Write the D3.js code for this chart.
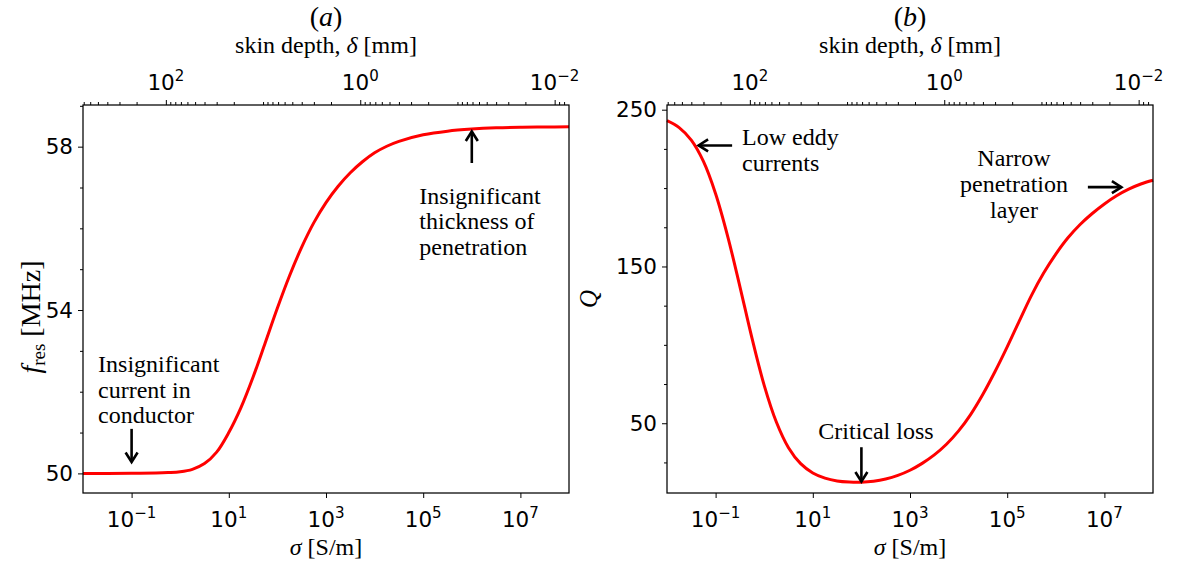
<!DOCTYPE html>
<html>
<head>
<meta charset="utf-8">
<script src="https://cdn.jsdelivr.net/npm/d3@7"></script>
<style>
  html, body { margin: 0; padding: 0; background: #fff; }
  svg { display: block; }
</style>
</head>
<body>
<svg id="fig" width="1179" height="568"></svg>
<script>
// ---- data: resonance frequency and quality factor versus wall conductivity ----
// conductivity samples as log10(sigma [S/m])
const logSigmaA = [-2, -1.5, -1, -0.5, -0.25, 0, 0.25, 0.5, 0.75, 1, 1.25, 1.5, 1.75, 2, 2.25, 2.5, 2.75, 3, 3.25, 3.5, 3.75, 4, 4.25, 4.5, 5, 5.5, 6, 6.5, 7, 7.5, 8];
const fresMHz   = [50.00, 50.00, 50.003, 50.01, 50.02, 50.04, 50.10, 50.24, 50.52, 51.00, 51.61, 52.36, 53.20, 54.05, 54.84, 55.54, 56.14, 56.63, 57.03, 57.36, 57.63, 57.85, 58.01, 58.13, 58.29, 58.38, 58.43, 58.46, 58.475, 58.48, 58.485];

const logSigmaB = [-2, -1.75, -1.5, -1.25, -1, -0.75, -0.5, -0.25, 0, 0.25, 0.5, 0.75, 1, 1.25, 1.5, 1.75, 2, 2.25, 2.5, 2.75, 3, 3.25, 3.5, 3.75, 4, 4.25, 4.5, 4.75, 5, 5.25, 5.5, 5.75, 6, 6.25, 6.5, 6.75, 7, 7.25, 7.5, 7.75, 8];
const qFactor   = [243.0, 238.6, 230.6, 217.0, 196.4, 169.1, 137.2, 104.1, 74.2, 50.8, 34.4, 24.2, 18.3, 15.0, 13.2, 12.5, 12.4, 13.0, 14.4, 16.7, 20.0, 24.4, 29.8, 36.6, 45.1, 55.7, 68.5, 83.0, 98.7, 115.3, 131.6, 145.8, 157.9, 168.3, 176.8, 183.8, 189.9, 195.1, 199.3, 202.6, 205.0];

// tick values
const sigmaTickExp = [-1, 1, 3, 5, 7];
const deltaTickExp = [2, 0, -2];
const fresTicks = [50, 54, 58];
const fresMinor = [51, 52, 53, 55, 56, 57, 59];
const qTicks = [50, 150, 250];
const qMinor = [25, 75, 100, 125, 175, 200, 225];

// annotations (text anchor, arrow tail -> tip) in data units
const annotA = [
  { lines: ["Insignificant", "current in", "conductor"], at: [10 ** -1.69, 52.48], anchor: "start",
    from: [0.1, 51.09], to: [0.1, 50.28] },
  { lines: ["Insignificant", "thickness of", "penetration"], at: [10 ** 4.92, 56.6], anchor: "start",
    from: [1e6, 57.6], to: [1e6, 58.37] }
];
const annotB = [
  { lines: ["Low eddy", "currents"], at: [10 ** -0.457, 227.2], anchor: "start",
    from: [10 ** -0.66, 227.2], to: [10 ** -1.35, 227.2] },
  { lines: ["Critical loss"], at: [10 ** 2.30, 40.0], anchor: "middle",
    from: [100, 34.7], to: [100, 12.8] },
  { lines: ["Narrow", "penetration", "layer"], at: [10 ** 5.14, 213.8], anchor: "middle",
    from: [10 ** 6.66, 200.6], to: [10 ** 7.35, 200.6] }
];

// ---- helpers ----
const SERIF = "'Liberation Serif', 'Times New Roman', serif";
const SANS = "'DejaVu Sans', sans-serif";
const TICK_FS = 21.5;
const TEXT_FS = 24;
const LINE_H = 25.6;

// skin depth in mm for a 50 MHz field: delta = sqrt(2 / (omega mu0 sigma))
const SKIN_COEF = 1000 * Math.sqrt(2 / (2 * Math.PI * 50e6 * 4 * Math.PI * 1e-7));
const skinDepth = s => SKIN_COEF / Math.sqrt(s);

const svg = d3.select("#fig");

function powerLabel(g, x, y, exp) {
  const t = g.append("text")
    .attr("x", x).attr("y", y)
    .attr("text-anchor", "middle")
    .attr("font-family", SANS)
    .attr("font-size", TICK_FS)
    .attr("fill", "#000");
  t.append("tspan").text("10");
  t.append("tspan")
    .attr("font-size", TICK_FS * 0.7)
    .attr("dy", -TICK_FS * 0.42)
    .text(String(exp).replace("-", "\u2212"));
}

function drawArrow(g, x1, y1, x2, y2) {
  const ang = Math.atan2(y2 - y1, x2 - x1);
  const L = 9.5, Hw = 6;
  const ux = Math.cos(ang), uy = Math.sin(ang);
  const px = -uy, py = ux;
  const bx = x2 - ux * L, by = y2 - uy * L;
  g.append("path")
    .attr("d", `M${x1},${y1}L${x2},${y2}`)
    .attr("stroke", "#000").attr("stroke-width", 2.6).attr("fill", "none");
  g.append("path")
    .attr("d", `M${bx + px * Hw},${by + py * Hw}L${x2},${y2}L${bx - px * Hw},${by - py * Hw}`)
    .attr("stroke", "#000").attr("stroke-width", 2.6).attr("fill", "none")
    .attr("stroke-linejoin", "miter").attr("stroke-linecap", "butt");
}

function panel(o) {
  const g = svg.append("g");
  const x = d3.scaleLog().domain([1e-2, 1e8]).range([o.x0, o.x1]);
  const xt = d3.scaleLog().domain([skinDepth(1e-2), skinDepth(1e8)]).range([o.x0, o.x1]);
  const y = d3.scaleLinear().domain(o.yDomain).range([o.y1, o.y0]);
  const cx = (o.x0 + o.x1) / 2;

  // curve
  const pts = o.logS.map((l, i) => [10 ** l, o.vals[i]]);
  g.append("path")
    .datum(pts)
    .attr("d", d3.line().x(d => x(d[0])).y(d => y(d[1])).curve(d3.curveCatmullRom.alpha(0.5)))
    .attr("fill", "none")
    .attr("stroke", "#ff0000")
    .attr("stroke-width", 3)
    .attr("stroke-linejoin", "round");

  // bottom axis (sigma)
  const bAx = g.append("g").attr("transform", `translate(0,${o.y1})`)
    .call(d3.axisBottom(x).tickValues(sigmaTickExp.map(e => 10 ** e)).tickSize(5).tickSizeOuter(0).tickFormat(""));
  bAx.select(".domain").remove();
  sigmaTickExp.forEach(e => powerLabel(g, x(10 ** e), 527, e));

  // top axis (skin depth)
  const [dHi, dLo] = xt.domain();
  const minors = [];
  for (let p = Math.floor(Math.log10(dLo)); p <= Math.ceil(Math.log10(dHi)); p++) {
    for (let k = 1; k <= 9; k++) {
      const v = k * 10 ** p;
      if (v >= dLo && v <= dHi && !(k === 1 && deltaTickExp.includes(p))) minors.push(v);
    }
  }
  const tMin = g.append("g").attr("transform", `translate(0,${o.y0})`)
    .call(d3.axisTop(xt).tickValues(minors).tickSize(3).tickSizeOuter(0).tickFormat(""));
  tMin.select(".domain").remove();
  const tMaj = g.append("g").attr("transform", `translate(0,${o.y0})`)
    .call(d3.axisTop(xt).tickValues(deltaTickExp.map(e => 10 ** e)).tickSize(5).tickSizeOuter(0).tickFormat(""));
  tMaj.select(".domain").remove();
  deltaTickExp.forEach(e => powerLabel(g, xt(10 ** e), 90, e));

  // left axis
  const lMin = g.append("g").attr("transform", `translate(${o.x0},0)`)
    .call(d3.axisLeft(y).tickValues(o.yMinor).tickSize(3).tickSizeOuter(0).tickFormat(""));
  lMin.select(".domain").remove();
  const lMaj = g.append("g").attr("transform", `translate(${o.x0},0)`)
    .call(d3.axisLeft(y).tickValues(o.yMajor).tickSize(5).tickSizeOuter(0).tickFormat(""));
  lMaj.select(".domain").remove();
  o.yMajor.forEach(v => {
    g.append("text")
      .attr("x", o.x0 - 10).attr("y", y(v) + TICK_FS * 0.36)
      .attr("text-anchor", "end")
      .attr("font-family", SANS).attr("font-size", TICK_FS)
      .text(v);
  });
  g.selectAll(".tick line").attr("stroke", "#000").attr("stroke-width", 1);

  // frame
  g.append("rect")
    .attr("x", o.x0).attr("y", o.y0)
    .attr("width", o.x1 - o.x0).attr("height", o.y1 - o.y0)
    .attr("fill", "none").attr("stroke", "#000").attr("stroke-width", 1.25);

  // axis titles
  const st = g.append("text")
    .attr("x", cx).attr("y", 555).attr("text-anchor", "middle")
    .attr("font-family", SERIF).attr("font-size", TEXT_FS);
  st.append("tspan").attr("font-style", "italic").text("\u03C3");
  st.append("tspan").text(" [S/m]");

  const tt = g.append("text")
    .attr("x", cx).attr("y", 53).attr("text-anchor", "middle")
    .attr("font-family", SERIF).attr("font-size", TEXT_FS);
  tt.append("tspan").text("skin depth,  ");
  tt.append("tspan").attr("font-style", "italic").text("\u03B4");
  tt.append("tspan").text(" [mm]");

  const ti = g.append("text")
    .attr("x", cx).attr("y", 26).attr("text-anchor", "middle")
    .attr("font-family", SERIF).attr("font-size", 28);
  ti.append("tspan").text("(");
  ti.append("tspan").attr("font-style", "italic").text(o.title);
  ti.append("tspan").text(")");

  o.yLabel(g, (o.y0 + o.y1) / 2);

  // annotations
  o.annot.forEach(a => {
    const ax = x(a.at[0]), ay = y(a.at[1]);
    const t = g.append("text")
      .attr("font-family", SERIF).attr("font-size", TEXT_FS)
      .attr("text-anchor", a.anchor);
    a.lines.forEach((ln, i) => {
      t.append("tspan").attr("x", ax).attr("y", ay + i * LINE_H).text(ln);
    });
    drawArrow(g, x(a.from[0]), y(a.from[1]), x(a.to[0]), y(a.to[1]));
  });
}

panel({
  x0: 83, x1: 569, y0: 105, y1: 493,
  yDomain: [49.52, 59.02], yMajor: fresTicks, yMinor: fresMinor,
  logS: logSigmaA, vals: fresMHz, title: "a", annot: annotA,
  yLabel: (g, cy) => {
    const t = g.append("text")
      .attr("transform", `translate(40,${cy + 18}) rotate(-90)`)
      .attr("text-anchor", "middle")
      .attr("font-family", SERIF).attr("font-size", 28);
    t.append("tspan").attr("font-style", "italic").text("f");
    t.append("tspan").attr("font-size", 19).attr("dy", 5).text("res");
    t.append("tspan").attr("dy", -5).text("  [MHz]");
  }
});

panel({
  x0: 667, x1: 1153, y0: 105, y1: 493,
  yDomain: [5.5, 253], yMajor: qTicks, yMinor: qMinor,
  logS: logSigmaB, vals: qFactor, title: "b", annot: annotB,
  yLabel: (g, cy) => {
    g.append("text")
      .attr("transform", `translate(597,${cy}) rotate(-90)`)
      .attr("text-anchor", "middle")
      .attr("font-family", SERIF).attr("font-size", 25)
      .attr("font-style", "italic")
      .text("Q");
  }
});
</script>
</body>
</html>
